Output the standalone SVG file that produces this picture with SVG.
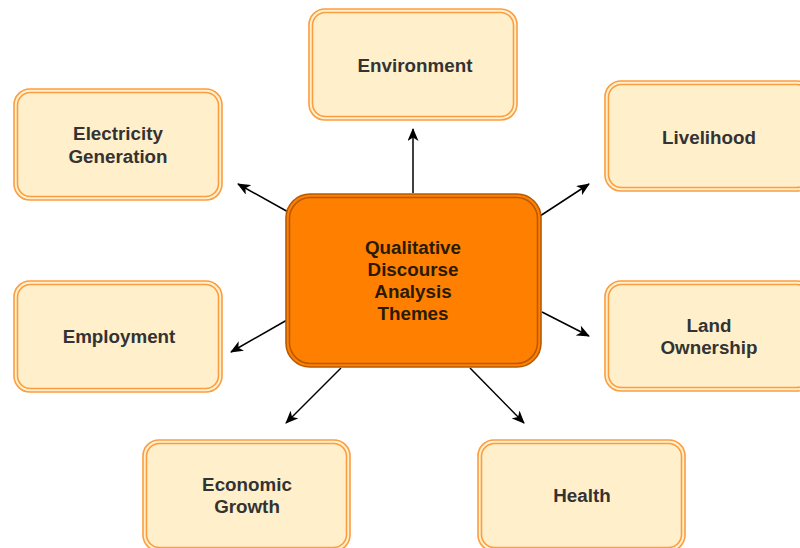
<svg xmlns="http://www.w3.org/2000/svg" width="800" height="548" viewBox="0 0 800 548">
<defs>
<style>
.node .o{fill:#fff0cb;stroke:#fb9d40;stroke-width:1.6}
.node .i{fill:none;stroke:#fb9d40;stroke-width:1.6}
.center .o{fill:#ff8000;stroke:#b85a00;stroke-width:1.6}
.center .i{fill:none;stroke:#b85a00;stroke-width:1.6}
text{font-family:"Liberation Sans",Arial,sans-serif;font-weight:bold;font-size:18.8px;text-anchor:middle;dominant-baseline:central}
.node text{fill:#333333}
.center text{fill:#2a1a00}
.conn line{stroke:#000;stroke-width:1.5;marker-end:url(#arr)}
</style>
<marker id="arr" viewBox="0 0 13 11" refX="12" refY="5.5" markerWidth="13" markerHeight="11" markerUnits="userSpaceOnUse" orient="auto">
<path d="M0,0 L13,5.5 L0,11 L3.5,5.5 z" fill="#000"/>
</marker>
</defs>
<g class="conn">
<line x1="413" y1="193" x2="413" y2="129"/>
<line x1="290" y1="213" x2="238" y2="184"/>
<line x1="540" y1="216" x2="589" y2="184"/>
<line x1="287" y1="320" x2="231" y2="352"/>
<line x1="542" y1="312" x2="589" y2="336"/>
<line x1="341" y1="368" x2="286" y2="423"/>
<line x1="470" y1="368" x2="524" y2="423"/>
</g>
<g id="center" class="center">
<rect class="o" x="286" y="194" width="255" height="173" rx="24"/>
<rect class="i" x="289.5" y="197.5" width="248" height="166" rx="21"/>
<text x="413" y="247">Qualitative</text>
<text x="413" y="269">Discourse</text>
<text x="413" y="291">Analysis</text>
<text x="413" y="313">Themes</text>
</g>
<g id="environment" class="node">
<rect class="o" x="309" y="9" width="208" height="111" rx="16"/>
<rect class="i" x="312.5" y="12.5" width="201" height="104" rx="13"/>
<text x="415" y="65">Environment</text>
</g>
<g id="electricity" class="node">
<rect class="o" x="14" y="89" width="208" height="111" rx="16"/>
<rect class="i" x="17.5" y="92.5" width="201" height="104" rx="13"/>
<text x="118" y="133">Electricity</text>
<text x="118" y="156">Generation</text>
</g>
<g id="livelihood" class="node">
<rect class="o" x="605" y="81" width="208" height="110" rx="16"/>
<rect class="i" x="608.5" y="84.5" width="201" height="103" rx="13"/>
<text x="709" y="137">Livelihood</text>
</g>
<g id="employment" class="node">
<rect class="o" x="14" y="281" width="208" height="111" rx="16"/>
<rect class="i" x="17.5" y="284.5" width="201" height="104" rx="13"/>
<text x="119" y="336">Employment</text>
</g>
<g id="land" class="node">
<rect class="o" x="605" y="281" width="208" height="110" rx="16"/>
<rect class="i" x="608.5" y="284.5" width="201" height="103" rx="13"/>
<text x="709" y="325">Land</text>
<text x="709" y="347">Ownership</text>
</g>
<g id="economic" class="node">
<rect class="o" x="143" y="440" width="207" height="111" rx="16"/>
<rect class="i" x="146.5" y="443.5" width="200" height="104" rx="13"/>
<text x="247" y="484">Economic</text>
<text x="247" y="506">Growth</text>
</g>
<g id="health" class="node">
<rect class="o" x="478" y="440" width="207" height="111" rx="16"/>
<rect class="i" x="481.5" y="443.5" width="200" height="104" rx="13"/>
<text x="582" y="495">Health</text>
</g>
</svg>
